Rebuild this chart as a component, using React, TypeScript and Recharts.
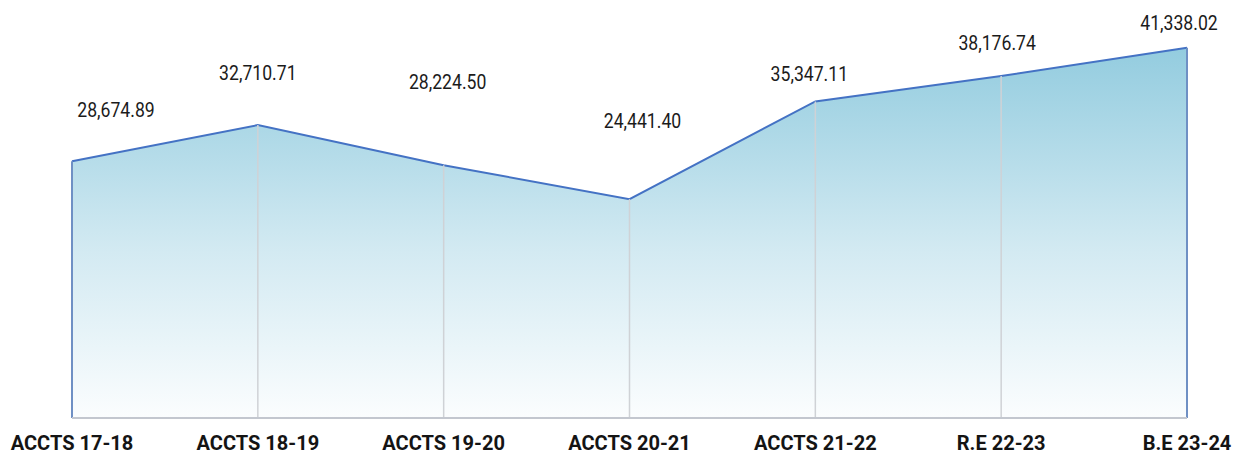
import { Area, AreaChart, LabelList, ReferenceLine, XAxis, YAxis } from 'recharts';

const categories = [
  'ACCTS 17-18',
  'ACCTS 18-19',
  'ACCTS 19-20',
  'ACCTS 20-21',
  'ACCTS 21-22',
  'R.E 22-23',
  'B.E 23-24',
];
const amounts = [28674.89, 32710.71, 28224.5, 24441.4, 35347.11, 38176.74, 41338.02];

// label placement relative to each point (layout only)
const labelLift = [44, 45, 76, 71, 20, 26, 18];
const labelShift = [44, 0, 4, 13, -6, -4, -8];

const rows = categories.map((name, i) => ({ name, value: amounts[i] }));

const fmt = (v: number) =>
  v.toLocaleString('en-US', { minimumFractionDigits: 2, maximumFractionDigits: 2 });

const FONT = 'Roboto, "Noto Sans", sans-serif';

function ValueLabel(props: any) {
  const { x, y, value, index } = props;
  return (
    <text
      transform={`translate(${x + labelShift[index]}, ${y - labelLift[index]}) scale(0.84, 1)`}
      textAnchor="middle"
      fontFamily={FONT}
      fontSize={21}
      fill="#1b1b1b"
    >
      {fmt(value)}
    </text>
  );
}

function CategoryTick(props: any) {
  const { x, y, payload } = props;
  return (
    <text
      transform={`translate(${x}, ${y + 24}) scale(0.955, 1)`}
      textAnchor="middle"
      fontFamily={FONT}
      fontSize={21}
      fontWeight={700}
      fill="#141414"
    >
      {payload.value}
    </text>
  );
}

export default function App() {
  const last = rows.length - 1;
  return (
    <div style={{ position: 'absolute', left: 0, top: 0, width: 1242, height: 454, background: '#fff' }}>
      <AreaChart
        width={1242}
        height={454}
        data={rows}
        margin={{ top: 15, right: 55, left: 72, bottom: 0 }}
      >
        <defs>
          <linearGradient id="fillBlue" x1="0" y1="0" x2="0" y2="1">
            <stop offset="0%" stopColor="#93CCDF" />
            <stop offset="55%" stopColor="#D3EAF2" />
            <stop offset="100%" stopColor="#FBFDFE" />
          </linearGradient>
        </defs>
        <XAxis
          dataKey="name"
          height={36}
          axisLine={{ stroke: '#c3c7cf', strokeWidth: 2 }}
          tickLine={false}
          tick={<CategoryTick />}
          interval={0}
        />
        <YAxis hide domain={[0, 45000]} />
        <Area
          type="linear"
          dataKey="value"
          stroke="#4472C4"
          strokeWidth={2}
          fill="url(#fillBlue)"
          fillOpacity={1}
          dot={false}
          activeDot={false}
          isAnimationActive={false}
        >
          <LabelList dataKey="value" content={<ValueLabel />} />
        </Area>
        {rows.map((r, i) => (
          <ReferenceLine
            key={r.name}
            segment={[
              { x: r.name, y: 0 },
              { x: r.name, y: r.value },
            ]}
            stroke={i === 0 || i === last ? '#6f90c4' : '#cfd2d6'}
            strokeWidth={i === 0 || i === last ? 2 : 1.5}
            ifOverflow="extendDomain"
          />
        ))}
      </AreaChart>
    </div>
  );
}
